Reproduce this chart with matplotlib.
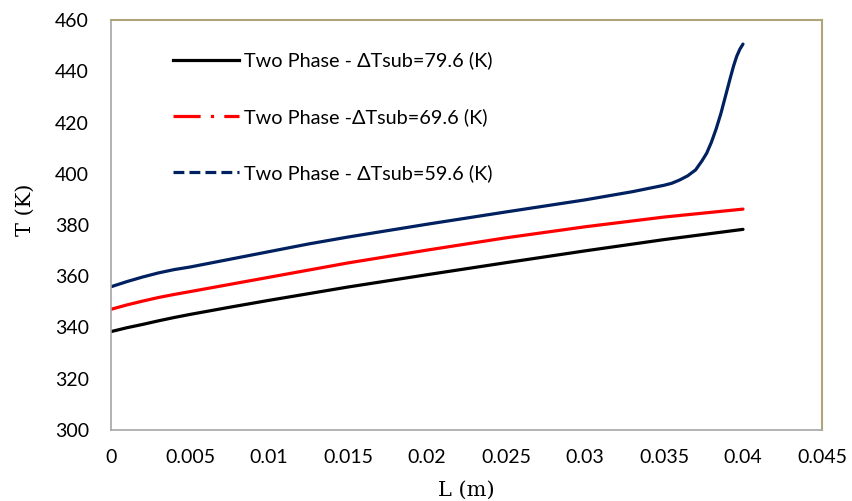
import matplotlib
matplotlib.use("Agg")
import matplotlib.pyplot as plt
from matplotlib.lines import Line2D

# two-phase wall temperature along the channel, three inlet subcoolings
L_79 = [0, 0.001, 0.002, 0.003, 0.004, 0.005, 0.0075, 0.01, 0.0125, 0.015,
        0.02, 0.025, 0.03, 0.035, 0.04]
T_79 = [338.4, 339.9, 341.2, 342.6, 343.9, 345.1, 347.9, 350.6, 353.2, 355.8,
        360.6, 365.3, 369.9, 374.3, 378.3]

L_69 = [0, 0.001, 0.002, 0.003, 0.004, 0.005, 0.0075, 0.01, 0.0125, 0.015,
        0.02, 0.025, 0.03, 0.035, 0.04]
T_69 = [347.1, 348.8, 350.3, 351.7, 352.9, 354.0, 356.8, 359.6, 362.4, 365.2,
        370.2, 375.0, 379.3, 383.1, 386.2]

L_59 = [0, 0.001, 0.002, 0.003, 0.004, 0.005, 0.0075, 0.01, 0.0125, 0.015,
        0.02, 0.025, 0.03, 0.033, 0.035, 0.0355, 0.036, 0.0365, 0.037,
        0.0374, 0.0377, 0.038, 0.0383, 0.0386, 0.0389, 0.0392, 0.0394,
        0.0396, 0.0398, 0.04]
T_59 = [355.9, 357.9, 359.7, 361.3, 362.6, 363.6, 366.6, 369.6, 372.6, 375.3,
        380.3, 385.1, 389.8, 393.0, 395.5, 396.3, 397.6, 399.2, 401.5,
        405.0, 408.0, 412.3, 417.5, 423.5, 430.5, 437.5, 442.0,
        445.8, 448.6, 450.6]

LABELS = ["Two Phase - \u0394Tsub=79.6 (K)",
          "Two Phase -\u0394Tsub=69.6 (K)",
          "Two Phase - \u0394Tsub=59.6 (K)"]
X_TICKS = [0, 0.005, 0.01, 0.015, 0.02, 0.025, 0.03, 0.035, 0.04, 0.045]
X_TICKLABELS = ["0", "0.005", "0.01", "0.015", "0.02", "0.025", "0.03",
                "0.035", "0.04", "0.045"]
Y_TICKS = [300, 320, 340, 360, 380, 400, 420, 440, 460]

SANS = ["Lato", "DejaVu Sans"]
SERIF = ["DejaVu Serif"]
NAVY = "#002060"
AXIS_GREY = "#A6A6A6"
FRAME = "#B0A578"

fig = plt.figure(figsize=(8.53, 5.01), dpi=100)
ax = fig.add_axes([111 / 853, 71 / 501, 711 / 853, 410 / 501])

lw = 2.3
ax.plot(L_79, T_79, color="black", lw=lw, solid_capstyle="round",
        solid_joinstyle="round")
ax.plot(L_69, T_69, color="#FF0000", lw=lw, solid_capstyle="round",
        solid_joinstyle="round")
ax.plot(L_59, T_59, color=NAVY, lw=lw, solid_capstyle="round",
        solid_joinstyle="round")

ax.set_xlim(0, 0.045)
ax.set_ylim(300, 460)
ax.set_xticks(X_TICKS)
ax.set_xticklabels(X_TICKLABELS)
ax.set_yticks(Y_TICKS)
ax.tick_params(length=0, labelsize=14)
ax.tick_params(axis="y", pad=16)
ax.tick_params(axis="x", pad=14)
for lbl in ax.get_xticklabels() + ax.get_yticklabels():
    lbl.set_family(SANS)

for side in ("left", "bottom"):
    ax.spines[side].set_color(AXIS_GREY)
    ax.spines[side].set_linewidth(1.2)
for side in ("top", "right"):
    ax.spines[side].set_color(FRAME)
    ax.spines[side].set_linewidth(1.5)

ax.set_xlabel("L (m)", family=SERIF, fontsize=15, labelpad=10)
ax.set_ylabel("T (K)", family=SERIF, fontsize=15)
ax.yaxis.set_label_coords(-0.107, 0.537)

# legend keys use the chart's dash styles
handles = [
    Line2D([], [], color="black", lw=lw),
    Line2D([], [], color="#FF0000", lw=lw, dashes=(8.5, 3.2, 1.0, 3.2)),
    Line2D([], [], color=NAVY, lw=lw, dashes=(3.4, 1.6)),
]
ax.legend(handles, LABELS, loc="upper left", bbox_to_anchor=(0.076, 0.942),
          borderaxespad=0, frameon=False, prop={"family": SANS, "size": 14.3},
          handlelength=3.3, handletextpad=0.3, labelspacing=1.93)

fig.savefig("out.png", dpi=100, facecolor="white")
